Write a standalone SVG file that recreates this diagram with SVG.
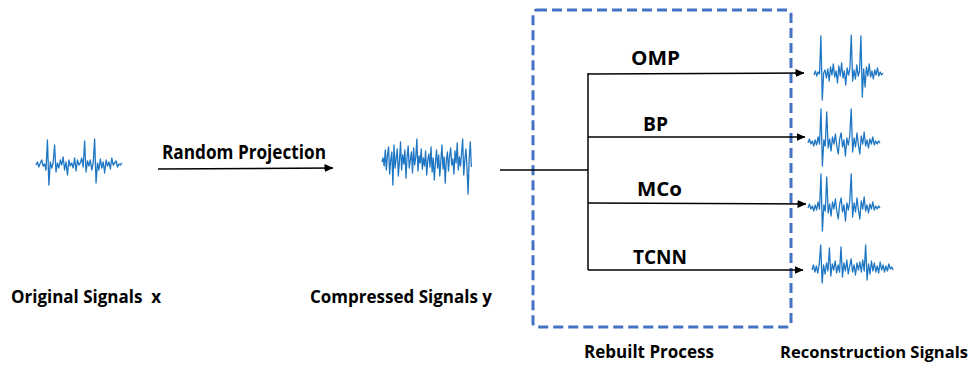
<svg xmlns="http://www.w3.org/2000/svg" width="977" height="368" viewBox="0 0 977 368">
<style>
text{font-family:"Open Sans","Liberation Sans",sans-serif;font-weight:700;fill:#000;}
.lbl{font-size:20px;}
.cap{font-size:17px;}
.sig{fill:none;stroke:#1f77c4;stroke-width:1.3;stroke-linejoin:round;}
.conn{fill:none;stroke:#000;stroke-width:1.5;}
</style>
<defs>
<marker id="arr" markerWidth="9" markerHeight="8" refX="8.5" refY="4" orient="auto" markerUnits="userSpaceOnUse">
<path d="M0,0 L9,4 L0,8 z" fill="#000"/>
</marker>
<polyline id="wBP" class="sig" vector-effect="non-scaling-stroke" points="0,1 1,-3 2,2 3,-1 4,4 5,-2 6,3 7,-5 8,2 9,-33 10,24 11,-2 12,4 13,-30 14,6 15,-3 16,9 17,-5 18,2 19,-8 20,4 21,12 22,-3 23,-9 24,5 25,-2 26,14 27,-4 28,3 29,-6 30,-33 31,10 32,-4 33,5 34,-9 35,3 36,12 37,-6 38,2 39,-10 40,4 41,-2 42,6 43,-3 44,2 45,-5 46,3 47,-1 48,2 49,-1 50,1"/>
</defs>

<g id="box-rebuilt">
<rect x="533" y="10" width="258" height="317" rx="4" fill="none" stroke="#4472C4" stroke-width="3" stroke-dasharray="10 5"/>
</g>

<g id="node-original">
<polyline class="sig" vector-effect="non-scaling-stroke" transform="translate(36,0) scale(1.43,1)" points="0,165 1,162 2,167 3,163 4,160 5,166 6,164 7,170 8,140 9,185 10,162 11,168 12,163 13,145 14,172 15,163 16,168 17,160 18,165 19,157 20,170 21,162 22,175 23,160 24,166 25,163 26,168 27,158 28,171 29,160 30,165 31,163 32,158 33,167 34,141 35,172 36,161 37,166 38,160 39,170 40,163 41,139 42,183 43,163 44,170 45,159 46,168 47,162 48,173 49,160 50,166 51,162 52,169 53,158 54,165 55,163 56,161 57,167 58,164 59,165 60,163"/>
<text class="cap" x="11" y="303" textLength="150" lengthAdjust="spacingAndGlyphs" xml:space="preserve">Original Signals  x</text>
</g>

<g id="node-compressed">
<polyline class="sig" vector-effect="non-scaling-stroke" transform="translate(382,0) scale(1.09,1)" points="0,162 1,158 2,166 3,150 4,170 5,155 6,147 7,174 8,160 9,152 10,185 11,145 12,168 13,158 14,149 15,176 16,161 17,142 18,170 19,155 20,164 21,150 22,178 23,157 24,146 25,168 26,160 27,152 28,173 29,148 30,165 31,157 32,139 33,171 34,156 35,163 36,149 37,169 38,158 39,166 40,151 41,175 42,160 43,154 44,167 45,147 46,172 47,158 48,180 49,163 50,150 51,168 52,155 53,176 54,161 55,145 56,169 57,157 58,183 59,160 60,152 61,171 62,156 63,148 64,165 65,159 66,174 67,151 68,163 69,143 70,170 71,157 72,166 73,153 74,139 75,175 76,160 77,149 78,168 79,194 80,158 81,142 82,167"/>
<text class="cap" x="310" y="303" textLength="182" lengthAdjust="spacingAndGlyphs">Compressed Signals y</text>
</g>

<g id="node-omp-out">
<polyline class="sig" vector-effect="non-scaling-stroke" transform="translate(814,73) scale(1.38,1)" points="0,2 1,-2 2,3 3,-1 4,1 5,-37 6,27 7,0 8,-3 9,5 10,-4 11,8 12,-6 13,2 14,-9 15,4 16,-2 17,10 18,-7 19,3 20,-10 21,5 22,-2 23,12 24,-5 25,2 26,-4 27,-38 28,8 29,-3 30,6 31,-8 32,3 33,-2 34,-37 35,24 36,-4 37,14 38,-6 39,3 40,-9 41,4 42,-2 43,6 44,-3 45,2 46,-5 47,3 48,-1 49,2 50,0"/>
</g>
<g id="node-bp-out">
<use href="#wBP" transform="translate(808,142) scale(1.44,1)"/>
</g>
<g id="node-mco-out">
<use href="#wBP" transform="translate(808,207) scale(1.44,1)"/>
</g>
<g id="node-tcnn-out">
<polyline class="sig" vector-effect="non-scaling-stroke" transform="translate(812,268) scale(1.45,1)" points="0,2 1,-3 2,4 3,-2 4,5 5,-4 6,-23 7,15 8,-3 9,6 10,-5 11,3 12,-20 13,8 14,-4 15,2 16,-7 17,5 18,-3 19,4 20,-21 21,9 22,-5 23,3 24,-8 25,6 26,-2 27,-9 28,4 29,-3 30,7 31,-5 32,2 33,-6 34,4 35,-8 36,3 37,-23 38,12 39,-4 40,6 41,-7 42,3 43,-5 44,4 45,-2 46,5 47,-6 48,2 49,-3 50,4 51,-2 52,3 53,-4 54,1 55,-1 56,2"/>
</g>

<g id="connectors">
<line class="conn" x1="158" y1="169" x2="333" y2="168" marker-end="url(#arr)"/>
<polyline class="conn" points="500,170 588,170"/>
<line class="conn" x1="588" y1="73" x2="588" y2="270"/>
<line class="conn" x1="588" y1="74" x2="804" y2="73" marker-end="url(#arr)"/>
<line class="conn" x1="588" y1="137" x2="805" y2="137" marker-end="url(#arr)"/>
<line class="conn" x1="588" y1="203" x2="806" y2="204" marker-end="url(#arr)"/>
<line class="conn" x1="588" y1="270" x2="803" y2="270" marker-end="url(#arr)"/>
</g>

<g id="labels">
<text class="lbl" x="162" y="159" textLength="164" lengthAdjust="spacingAndGlyphs">Random Projection</text>
<text class="lbl" x="631" y="65" textLength="49" lengthAdjust="spacingAndGlyphs">OMP</text>
<text class="lbl" x="643" y="131" textLength="25" lengthAdjust="spacingAndGlyphs">BP</text>
<text class="lbl" x="637" y="196" textLength="45" lengthAdjust="spacingAndGlyphs">MCo</text>
<text class="lbl" x="633" y="264" textLength="54" lengthAdjust="spacingAndGlyphs">TCNN</text>
<text class="cap" x="584" y="358" textLength="130" lengthAdjust="spacingAndGlyphs">Rebuilt Process</text>
<text class="cap" x="780" y="358" style="font-size:16px" textLength="188" lengthAdjust="spacingAndGlyphs">Reconstruction Signals</text>
</g>
</svg>
